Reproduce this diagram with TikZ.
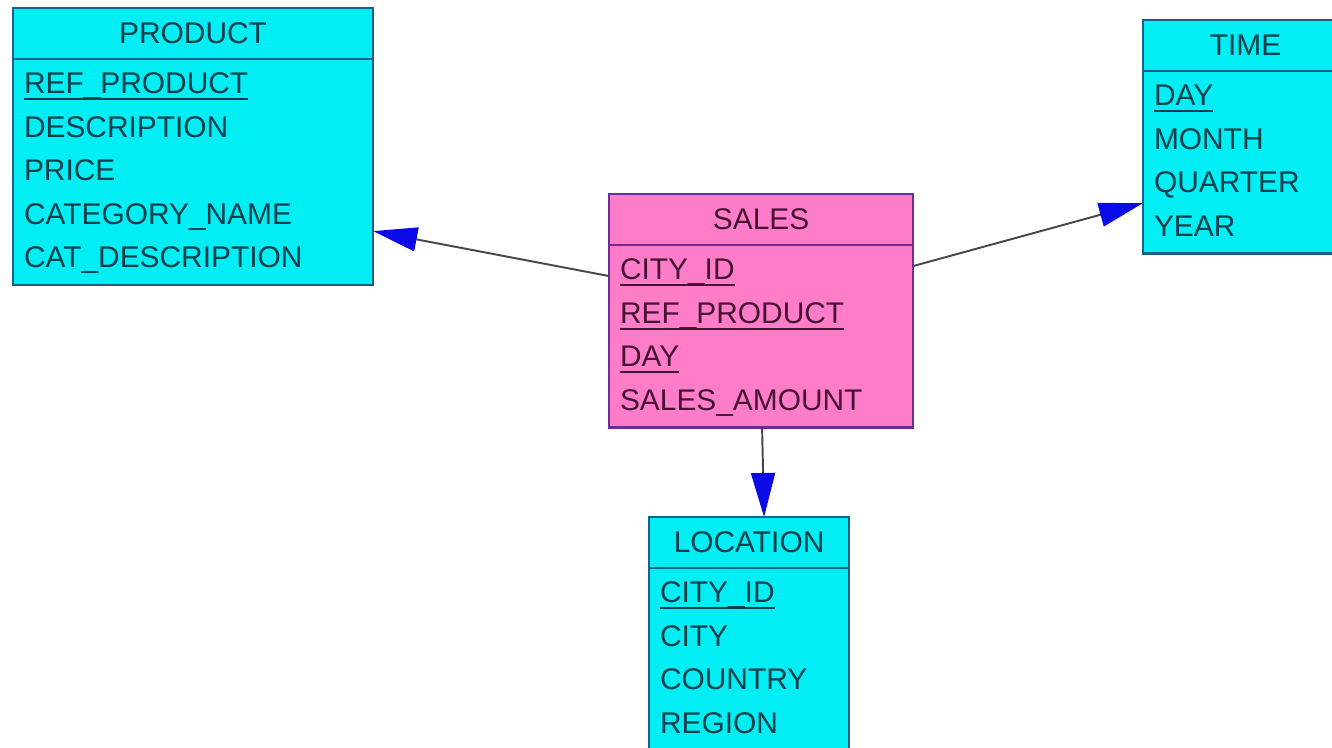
\documentclass[tikz,border=0pt]{standalone}
\usepackage{fontspec}
\setmainfont{Liberation Sans}
\usetikzlibrary{arrows.meta,positioning}

\definecolor{dimfill}{RGB}{0,238,244}
\definecolor{dimline}{RGB}{24,96,140}
\definecolor{dimtext}{RGB}{10,62,74}
\definecolor{factfill}{RGB}{255,124,200}
\definecolor{factline}{RGB}{112,44,150}
\definecolor{facttext}{RGB}{70,18,52}
\definecolor{linkgray}{RGB}{70,70,80}
\definecolor{tipblue}{RGB}{10,10,230}

% key attributes are underlined (rule sits on the underscore)
\newcommand{\pk}[1]{\leavevmode\setbox0\hbox{#1}\rlap{\rule[-1.85pt]{\wd0}{0.6pt}}\box0}

\begin{document}
\begin{tikzpicture}[
    x=0.01cm, y=-0.01cm,
    font=\fontsize{8.5}{12.38}\selectfont,
    dim/.style={rectangle, draw=dimline, fill=dimfill, text=dimtext, line width=0.7pt, outer sep=0pt},
    fact/.style={rectangle, draw=factline, fill=factfill, text=facttext, line width=0.7pt, outer sep=0pt},
    header/.style={anchor=north west, minimum height=0.51cm, inner sep=0pt},
    fields/.style={anchor=north west, align=left, inner xsep=0.11cm, inner ysep=1.2pt,
        execute at begin node=\strut, execute at end node=\strut},
    link/.style={-{Triangle[length=0.44cm, width=0.24cm, color=tipblue]}, draw=linkgray, line width=0.55pt}
]
    \useasboundingbox (0,0) rectangle (1332,748);
    \clip (0,0) rectangle (1332,748);

    % Dimension tables
    \node[dim, header, minimum width=3.6cm] (product) at (13,8) {PRODUCT};
    \node[dim, fields, text width=3.38cm] (product-f) at (product.south west)
        {\pk{REF\_PRODUCT}\\DESCRIPTION\\PRICE\\CATEGORY\_NAME\\CAT\_DESCRIPTION};

    \node[dim, header, minimum width=2.05cm] (time) at (1143,20) {TIME};
    \node[dim, fields, text width=1.83cm] (time-f) at (time.south west)
        {\pk{DAY}\\MONTH\\QUARTER\\YEAR};

    \node[dim, header, minimum width=2.0cm] (location) at (649,517) {LOCATION};
    \node[dim, fields, text width=1.78cm] (location-f) at (location.south west)
        {\pk{CITY\_ID}\\CITY\\COUNTRY\\REGION};

    % Fact table
    \node[fact, header, minimum width=3.04cm] (sales) at (609,194) {SALES};
    \node[fact, fields, text width=2.82cm] (sales-f) at (sales.south west)
        {\pk{CITY\_ID}\\\pk{REF\_PRODUCT}\\\pk{DAY}\\SALES\_AMOUNT};

    % Link end points
    \coordinate (sales-w) at ([yshift=-0.31cm]sales-f.north west);
    \coordinate (sales-e) at ([yshift=-0.21cm]sales-f.north east);
    \coordinate (sales-s) at ([xshift=1.53cm]sales-f.south west);
    \coordinate (product-e) at ([yshift=-1.72cm]product-f.north east);
    \coordinate (time-w) at ([yshift=-1.32cm]time-f.north west);
    \coordinate (location-n) at ([xshift=1.15cm]location.north west);

    % Links
    \draw[link] (sales-w) -- (product-e);
    \draw[link] (sales-e) -- (time-w);
    \draw[link] (sales-s) -- (location-n);
\end{tikzpicture}
\end{document}
